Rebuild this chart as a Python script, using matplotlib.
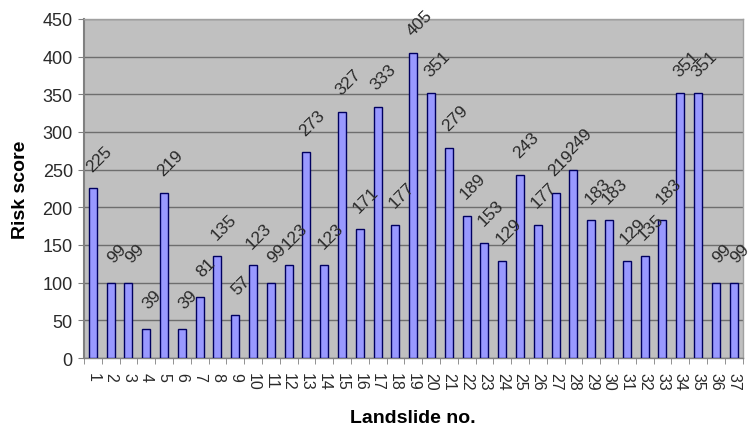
import matplotlib
matplotlib.use("Agg")
import matplotlib.pyplot as plt
import numpy as np

plt.rcParams['font.family'] = ['Liberation Sans', 'DejaVu Sans']

# Risk score for each landslide
landslides = [str(i) for i in range(1, 38)]
risk_scores = [225, 99, 99, 39, 219, 39, 81, 135, 57, 123, 99, 123, 273, 123,
               327, 171, 333, 177, 405, 351, 279, 189, 153, 129, 243, 177,
               219, 249, 183, 183, 129, 135, 183, 351, 351, 99, 99]
y_ticks = [0, 50, 100, 150, 200, 250, 300, 350, 400, 450]

fig = plt.figure(figsize=(7.51, 4.31), dpi=100)
ax = fig.add_axes([0.1118, 0.167, 0.877, 0.787])

x = np.arange(len(landslides))
ax.set_facecolor('#c0c0c0')
ax.bar(x, risk_scores, width=0.45, color='#9999ff', edgecolor='#000060',
       linewidth=1.0, zorder=3)

for xi, v in zip(x, risk_scores):
    ax.annotate(str(v), (xi, v), xytext=(6, 30), textcoords='offset pixels',
                rotation=45, ha='center', va='center', fontsize=12.5,
                color='#2a2a2a', zorder=4)

ax.set_xlim(-0.5, len(landslides) - 0.5)
ax.set_ylim(0, 450)
ax.set_yticks(y_ticks)
ax.set_yticklabels([str(t) for t in y_ticks], fontsize=13, color='#2a2a2a')
ax.yaxis.grid(True, color='#6e6e6e', linewidth=1.0, zorder=1)

# category labels centred, tick marks on the category boundaries
ax.set_xticks(x)
ax.set_xticklabels(landslides, rotation=-90, fontsize=11.5, color='#2a2a2a')
ax.tick_params(axis='x', length=0, pad=10)
ax.set_xticks(np.arange(-0.5, len(landslides)), minor=True)
ax.tick_params(axis='x', which='minor', length=4, color='#808080', direction='out')
ax.tick_params(axis='y', length=4, color='#808080', pad=4)

for side in ['top', 'right']:
    ax.spines[side].set_color('#a0a0a0')
    ax.spines[side].set_linewidth(1.0)
ax.spines['left'].set_color('#808080')
ax.spines['left'].set_linewidth(1.5)
ax.spines['bottom'].set_color('#808080')
ax.spines['bottom'].set_linewidth(1.0)

ax.set_ylabel('Risk score', fontsize=14, fontweight='bold', labelpad=10)
ax.set_xlabel('Landslide no.', fontsize=14, fontweight='bold', labelpad=14)

fig.savefig('out.png', dpi=100)
